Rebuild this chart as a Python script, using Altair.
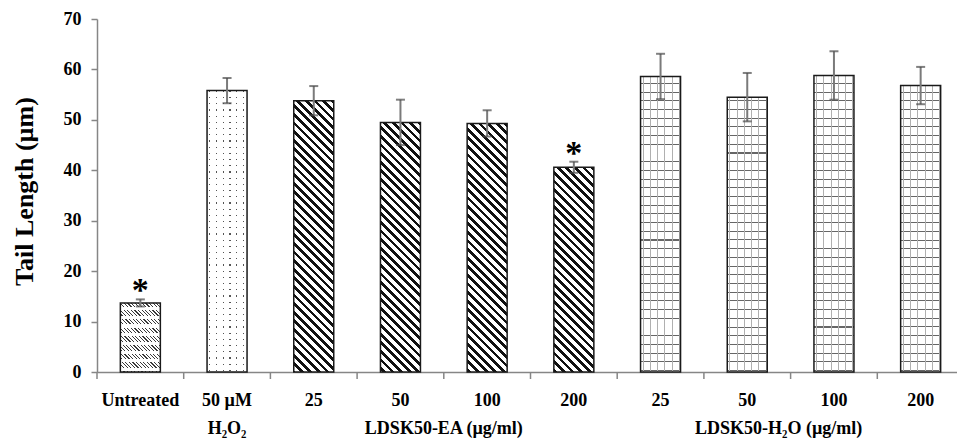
import altair as alt
import pandas as pd

# ---------------- data ----------------
keys = ["Untreated", "H2O2", "EA25", "EA50", "EA100", "EA200", "W25", "W50", "W100", "W200"]
tick_labels = ["Untreated", "50 µM", "25", "50", "100", "200", "25", "50", "100", "200"]
means = [13.7, 55.8, 53.8, 49.5, 49.3, 40.6, 58.6, 54.5, 58.8, 56.8]
errors = [0.7, 2.5, 2.9, 4.5, 2.6, 1.1, 4.5, 4.8, 4.8, 3.7]
significant = [True, False, False, False, False, True, False, False, False, False]
patterns = ["hatch", "dots", "diag", "diag", "diag", "diag", "grid", "grid", "grid", "grid"]
group_labels = ["H₂O₂", "LDSK50-EA (µg/ml)", "LDSK50-H₂O (µg/ml)"]
group_anchor = ["H2O2", "EA100", "W100"]
y_ticks = [0, 10, 20, 30, 40, 50, 60, 70]

df = pd.DataFrame({"key": keys, "value": means, "err": errors,
                   "sig": significant, "pattern": patterns})

# ---------------- layout / style ----------------
PLOT_W = 860
BAND_RANGE = 867
PLOT_H = 353
BAR_W = 40
YMAX = 70
FONT = "Liberation Serif"
AXIS_GREY = "#868686"
CLEAR = "rgba(255,255,255,0)"


def stripe_stops(length, period, on, c_on, c_off, phase=0.0):
    stops = [(0.0, c_off)]
    a = phase - period
    while a < length:
        b = a + on
        lo, hi = max(a, 0.0), min(b, length)
        if hi > lo:
            stops += [(lo / length, c_off), (lo / length, c_on),
                      (hi / length, c_on), (hi / length, c_off)]
        a += period
    stops.append((1.0, c_off))
    return [{"offset": round(o, 5), "color": c} for o, c in stops]


def diag_grad(h, period, on, c_on, c_off):
    w = BAR_W
    s = (w + h) / (w * w + h * h)
    return {"gradient": "linear", "x1": 1, "y1": 0, "x2": 1 - s * w, "y2": s * h,
            "stops": stripe_stops(w + h, period, on, c_on, c_off)}


def horiz_grad(h, period, on, c_on, c_off):
    return {"gradient": "linear", "x1": 0, "y1": 1, "x2": 0, "y2": 0,
            "stops": stripe_stops(h, period, on, c_on, c_off, phase=1.0)}


def vert_grad(period, on, c_on, c_off):
    return {"gradient": "linear", "x1": 0, "y1": 0, "x2": 1, "y2": 0,
            "stops": stripe_stops(BAR_W, period, on, c_on, c_off, phase=2.0)}


label_expr = "''"
for k, lab in reversed(list(zip(keys, tick_labels))):
    label_expr = f"datum.value == '{k}' ? '{lab}' : ({label_expr})"

x_scale = alt.Scale(domain=keys, range=[0, BAND_RANGE], paddingInner=0, paddingOuter=0)
x_axis = alt.Axis(title=None, labelExpr=label_expr, labelFont=FONT, labelFontWeight="bold",
                  labelFontSize=18, labelColor="black", labelBaseline="alphabetic",
                  labelPadding=33, ticks=False, tickSize=0, domainColor=AXIS_GREY,
                  domainWidth=1.5, labelAngle=0, grid=False)
y_scale = alt.Scale(domain=[0, YMAX], nice=False)
y_axis = alt.Axis(values=y_ticks, title="Tail Length (µm)", titleFont=FONT, titleFontSize=26,
                  titleFontWeight="bold", titleColor="black", titleAngle=270, titleX=-73,
                  titleY=172, titleAlign="center", titleBaseline="middle",
                  labelFont=FONT, labelFontSize=18, labelFontWeight="bold", labelColor="black",
                  labelPadding=10, tickSize=6, tickColor=AXIS_GREY, tickWidth=1.5,
                  domainColor=AXIS_GREY, domainWidth=1.5, grid=False)

X = alt.X("key:N", sort=keys, scale=x_scale, axis=x_axis)


def Y(field):
    return alt.Y(f"{field}:Q", scale=y_scale, axis=y_axis)


base = alt.Chart(df)
layers = []

for k, v, p in zip(keys, means, patterns):
    h = v * PLOT_H / YMAX
    sub = base.transform_filter(alt.datum.key == k)
    fills = []
    if p == "diag":
        fills = [diag_grad(h, 8.6, 3.8, "#111111", "#ffffff")]
    elif p == "hatch":
        fills = [diag_grad(h, 3.6, 1.1, "#3a3a3a", "#ffffff"),
                 horiz_grad(h, 8.7, 3.0, "#ffffff", CLEAR)]
    elif p == "dots":
        fills = ["#555555",
                 horiz_grad(h, 6.2, 1.2, CLEAR, "#ffffff"),
                 vert_grad(6.8, 1.2, CLEAR, "#ffffff")]
    elif p == "grid":
        fills = [horiz_grad(h, 8.7, 1.0, "#666666", "#ffffff"),
                 vert_grad(7.3, 1.0, "#b0b0b0", CLEAR)]
    for f in fills:
        layers.append(sub.mark_bar(size=BAR_W, fill=f, strokeWidth=0).encode(x=X, y=Y("value")))

# bar outlines
layers.append(base.mark_bar(size=BAR_W, fill="#ffffff", fillOpacity=0, stroke="#1a1a1a",
                            strokeWidth=1.5).encode(x=X, y=Y("value")))

# category separator ticks on the x axis
layers.append(base.mark_rule(color=AXIS_GREY, strokeWidth=1.5).encode(
    x=alt.X("key:N", sort=keys, scale=x_scale, axis=x_axis, bandPosition=0),
    y=alt.value(PLOT_H), y2=alt.value(PLOT_H + 7)))

# error bars
eb = base.transform_calculate(lo="datum.value - datum.err", hi="datum.value + datum.err")
layers.append(eb.mark_rule(color="#7a7a7a", strokeWidth=2).encode(
    x=X, y=Y("lo"), y2="hi:Q"))
layers.append(eb.mark_tick(color="#4a4a4a", size=9, thickness=2).encode(x=X, y=Y("lo")))
layers.append(eb.mark_tick(color="#4a4a4a", size=9, thickness=2).encode(x=X, y=Y("hi")))

# significance asterisks
layers.append(eb.transform_filter(alt.datum.sig).mark_text(
    text="*", font=FONT, fontSize=34, fontWeight="bold", color="black",
    baseline="alphabetic", dy=2).encode(x=X, y=Y("hi")))

# second-line / group labels below the axis
notes = pd.DataFrame({"anchor": group_anchor, "label": group_labels})
offsets = [BAND_RANGE / 20, 0, -12]
for anc, off in zip(group_anchor, offsets):
    layers.append(alt.Chart(notes).transform_filter(alt.datum.anchor == anc).mark_text(
        font=FONT, fontSize=18, fontWeight="bold", color="black",
        baseline="alphabetic", align="center", dx=off).encode(
        x=alt.X("anchor:N", sort=keys, scale=x_scale, axis=x_axis, bandPosition=0),
        y=alt.value(PLOT_H + 62), text="label:N"))

chart = alt.layer(*layers).properties(
    width=PLOT_W, height=PLOT_H,
    autosize=alt.AutoSizeParams(type="none"),
    padding={"left": 97, "top": 19, "right": 0, "bottom": 69},
).configure_view(stroke=None)

chart.save("out.html", embed_options={"renderer": "svg", "actions": False})
